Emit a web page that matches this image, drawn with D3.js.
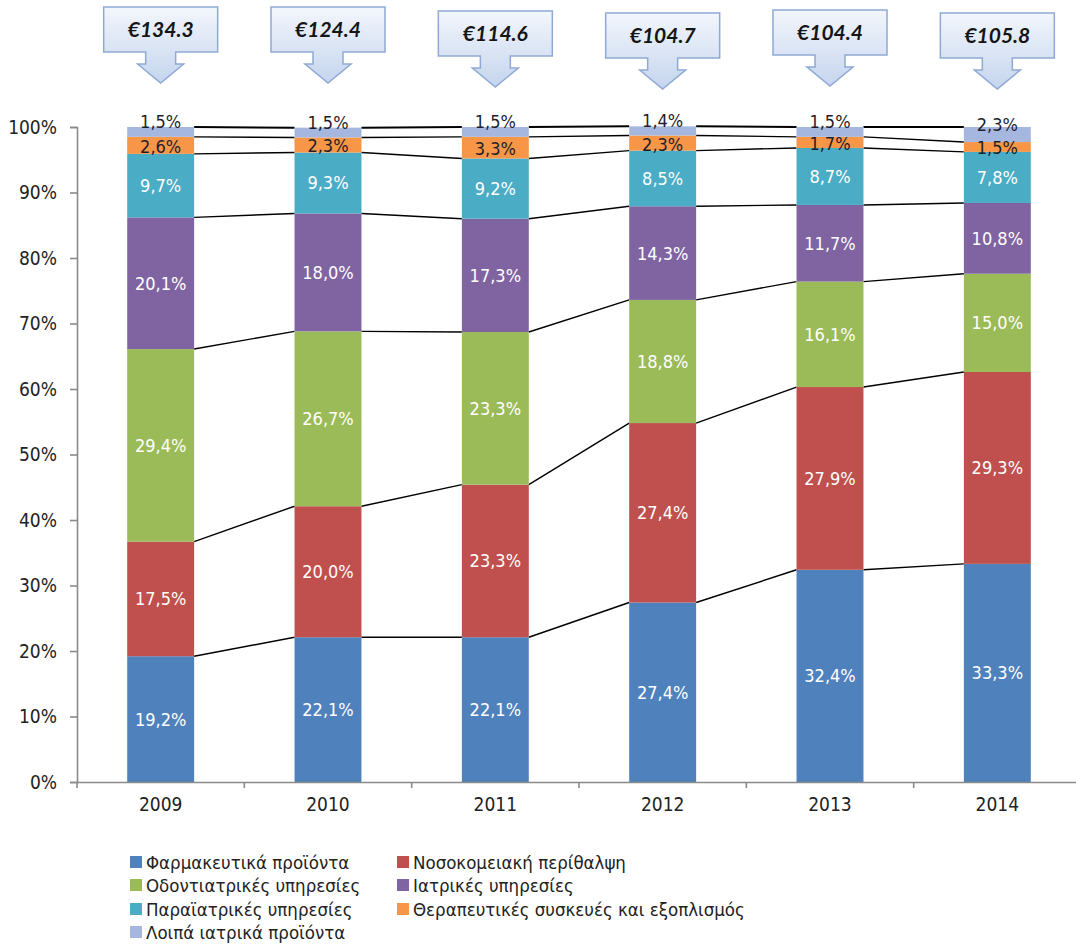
<!DOCTYPE html>
<html>
<head>
<meta charset="utf-8">
<script src="https://cdn.jsdelivr.net/npm/d3@7"></script>
<style>
  html, body { margin: 0; padding: 0; background: #fff; }
  svg { display: block; }
</style>
</head>
<body>
<svg id="chart" width="1076" height="947"></svg>
<script>
// Years and total health spending per year (€ bn, shown in the callouts)
const years = ["2009", "2010", "2011", "2012", "2013", "2014"];
const totals = [134.3, 124.4, 114.6, 104.7, 104.4, 105.8];

// Share of each spending category per year (%)
const seriesNames = [
  "Φαρμακευτικά προϊόντα",
  "Νοσοκομειακή περίθαλψη",
  "Οδοντιατρικές υπηρεσίες",
  "Ιατρικές υπηρεσίες",
  "Παραϊατρικές υπηρεσίες",
  "Θεραπευτικές συσκευές και εξοπλισμός",
  "Λοιπά ιατρικά προϊόντα"
];
const pharma      = [19.2, 22.1, 22.1, 27.4, 32.4, 33.3];
const hospital    = [17.5, 20.0, 23.3, 27.4, 27.9, 29.3];
const dental      = [29.4, 26.7, 23.3, 18.8, 16.1, 15.0];
const medical     = [20.1, 18.0, 17.3, 14.3, 11.7, 10.8];
const paramedical = [9.7, 9.3, 9.2, 8.5, 8.7, 7.8];
const therapeutic = [2.6, 2.3, 3.3, 2.3, 1.7, 1.5];
const otherProd   = [1.5, 1.5, 1.5, 1.4, 1.5, 2.3];
const yTicks = [0, 10, 20, 30, 40, 50, 60, 70, 80, 90, 100];

const seriesValues = [pharma, hospital, dental, medical, paramedical, therapeutic, otherProd];
const colors = ["#4f81bd", "#c0504d", "#9bbb59", "#8064a2", "#4bacc6", "#f79646", "#a6b7df"];
const labelColors = ["#fff", "#fff", "#fff", "#fff", "#fff", "#1e1e2a", "#1e1e2a"];

const svg = d3.select("#chart");
const fontFam = '"Liberation Sans Narrow", "DejaVu Sans Condensed", sans-serif';

const x = d3.scaleBand().domain(years).range([77, 1081]).paddingInner(0.6).paddingOuter(0.3);
const y = d3.scaleLinear().domain([0, 100]).range([782, 127]);
const step = x.step();

// rows for the stack
const rows = years.map((yr, i) => {
  const r = { year: yr };
  seriesNames.forEach((n, k) => { r[n] = seriesValues[k][i]; });
  return r;
});
const stacked = d3.stack().keys(seriesNames)(rows);

// connector lines between the tops of matching segments
const gLines = svg.append("g");
stacked.forEach((s, k) => {
  for (let i = 0; i < years.length - 1; i++) {
    gLines.append("line")
      .attr("x1", x(years[i]) + x.bandwidth())
      .attr("y1", y(s[i][1]))
      .attr("x2", x(years[i + 1]))
      .attr("y2", y(s[i + 1][1]))
      .attr("stroke", "#000")
      .attr("stroke-width", k === 6 ? 2 : 1.4);
  }
});

// bars
const gBars = svg.append("g");
stacked.forEach((s, k) => {
  gBars.selectAll(null).data(s).enter().append("rect")
    .attr("x", d => x(d.data.year))
    .attr("width", x.bandwidth())
    .attr("y", d => y(d[1]))
    .attr("height", d => y(d[0]) - y(d[1]))
    .attr("fill", colors[k]);
});

// axes
const yAxis = d3.axisLeft(y).tickValues(yTicks).tickFormat(d => d + "%").tickSize(7).tickPadding(13);
const gy = svg.append("g").attr("transform", "translate(77,0)").call(yAxis);
gy.select(".domain").attr("stroke", "#8a8a8a").attr("stroke-width", 1.6);
gy.selectAll(".tick line").attr("stroke", "#8a8a8a").attr("stroke-width", 1.6);
gy.selectAll(".tick text").attr("font-family", fontFam).attr("font-size", 19).attr("fill", "#222");

const xAxis = d3.axisBottom(x).tickSize(0).tickPadding(16);
const gx = svg.append("g").attr("transform", "translate(0,782)").call(xAxis);
gx.select(".domain").attr("stroke", "#8a8a8a").attr("stroke-width", 1.6);
gx.selectAll(".tick text").attr("font-family", fontFam).attr("font-size", 19).attr("fill", "#222");
// category boundary ticks
d3.range(years.length + 1).forEach(k => {
  gx.append("line").attr("x1", 77 + k * step).attr("x2", 77 + k * step)
    .attr("y1", 0).attr("y2", 6).attr("stroke", "#8a8a8a").attr("stroke-width", 1.6);
});

// value labels
const fmt = v => v.toFixed(1).replace(".", ",") + "%";
const gLab = svg.append("g");
stacked.forEach((s, k) => {
  gLab.selectAll(null).data(s).enter().append("text")
    .attr("x", d => x(d.data.year) + x.bandwidth() / 2)
    .attr("y", d => (y(d[0]) + y(d[1])) / 2 + (k === 6 ? -10 : (k === 5 ? 1 : 0)))
    .attr("dy", "0.36em")
    .attr("text-anchor", "middle")
    .attr("font-family", fontFam)
    .attr("font-size", 18)
    .attr("fill", labelColors[k])
    .text(d => fmt(d.data[seriesNames[k]]));
});

// total spending callouts (box with downward arrow)
const defs = svg.append("defs");
const grad = defs.append("linearGradient").attr("id", "calloutFill").attr("x1", 0).attr("y1", 0).attr("x2", 0).attr("y2", 1);
grad.append("stop").attr("offset", "0%").attr("stop-color", "#f3f6fc");
grad.append("stop").attr("offset", "100%").attr("stop-color", "#c5d5ee");

const calloutTop = [7, 7, 11, 13, 10, 13];
const bw = 114, bh = 45, shaftW = 30, shaftH = 12, headW = 46, headH = 19;
years.forEach((yr, i) => {
  const cx = x(yr) + x.bandwidth() / 2;
  const t = calloutTop[i];
  const b = t + bh;
  const path = [
    [cx - bw / 2, t], [cx + bw / 2, t], [cx + bw / 2, b],
    [cx + shaftW / 2, b], [cx + shaftW / 2, b + shaftH], [cx + headW / 2, b + shaftH],
    [cx, b + shaftH + headH],
    [cx - headW / 2, b + shaftH], [cx - shaftW / 2, b + shaftH], [cx - shaftW / 2, b],
    [cx - bw / 2, b]
  ];
  svg.append("path")
    .attr("d", d3.line()(path) + "Z")
    .attr("fill", "url(#calloutFill)")
    .attr("stroke", "#8fa9d4")
    .attr("stroke-width", 1.5)
    .attr("stroke-linejoin", "miter");
  svg.append("text")
    .attr("x", cx).attr("y", t + bh / 2).attr("dy", "0.36em")
    .attr("text-anchor", "middle")
    .attr("font-family", "Lato, 'Open Sans', sans-serif")
    .attr("font-weight", "bold").attr("font-style", "italic")
    .attr("font-size", 21).attr("fill", "#151515")
    .text("€" + totals[i].toFixed(1));
});

// legend
const legendPos = [[130, 862], [397, 862], [130, 885], [397, 885], [130, 909], [397, 909], [130, 932]];
const gLeg = svg.append("g");
seriesNames.forEach((n, k) => {
  const [lx, ly] = legendPos[k];
  gLeg.append("rect").attr("x", lx).attr("y", ly - 6).attr("width", 12).attr("height", 12).attr("fill", colors[k]);
  gLeg.append("text").attr("x", lx + 16).attr("y", ly).attr("dy", "0.36em")
    .attr("font-family", fontFam).attr("font-size", 18.5).attr("fill", "#222").text(n);
});
</script>
</body>
</html>
